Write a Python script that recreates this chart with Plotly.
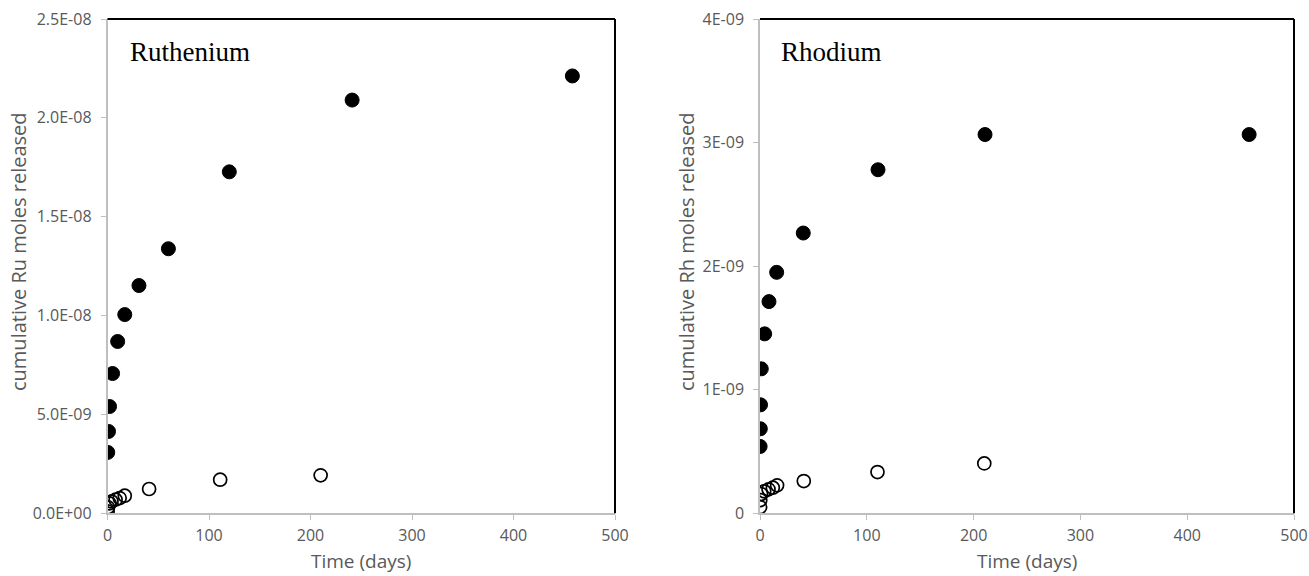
import plotly.graph_objects as go

# ---- data ----
ru_days_filled = [0.25, 1, 2, 5, 10, 17, 31, 60, 120, 241, 458]
ru_moles_filled = [3.08e-9, 4.14e-9, 5.40e-9, 7.07e-9, 8.69e-9, 1.005e-8, 1.152e-8, 1.338e-8, 1.727e-8, 2.09e-8, 2.212e-8]
ru_days_open = [0.1, 0.5, 2, 4, 8, 12, 17, 41, 111, 210]
ru_moles_open = [0.1e-9, 0.3e-9, 0.5e-9, 0.6e-9, 0.69e-9, 0.77e-9, 0.89e-9, 1.23e-9, 1.70e-9, 1.92e-9]

rh_days_filled = [0.1, 0.3, 0.5, 1.2, 4.4, 8.4, 15.6, 40.5, 110.5, 210.7, 458]
rh_moles_filled = [0.541e-9, 0.684e-9, 0.878e-9, 1.169e-9, 1.452e-9, 1.713e-9, 1.95e-9, 2.268e-9, 2.78e-9, 3.065e-9, 3.065e-9]
rh_days_open = [0.1, 0.3, 1, 4, 8, 12, 16, 41, 110, 210]
rh_moles_open = [0.05e-9, 0.107e-9, 0.156e-9, 0.178e-9, 0.194e-9, 0.207e-9, 0.226e-9, 0.261e-9, 0.334e-9, 0.404e-9]

x_ticks = [0, 100, 200, 300, 400, 500]
ru_yticks = [0, 5e-9, 1e-8, 1.5e-8, 2e-8, 2.5e-8]
ru_ytick_labels = ["0.0E+00", "5.0E-09", "1.0E-08", "1.5E-08", "2.0E-08", "2.5E-08"]
rh_yticks = [0, 1e-9, 2e-9, 3e-9, 4e-9]
rh_ytick_labels = ["0", "1E-09", "2E-09", "3E-09", "4E-09"]

W, H = 1309, 576
GRAY = "#BFBFBF"
TXT = "#595959"
FONT = "Open Sans"

fig = go.Figure()

filled = dict(size=14, color="black", line=dict(color="black", width=1))
hollow = dict(size=13, color="black", symbol="circle-open", line=dict(width=1.7))

fig.add_trace(go.Scatter(x=ru_days_filled, y=ru_moles_filled, mode="markers", marker=filled,
                         xaxis="x", yaxis="y", showlegend=False))
fig.add_trace(go.Scatter(x=ru_days_open, y=ru_moles_open, mode="markers", marker=hollow,
                         xaxis="x", yaxis="y", showlegend=False))
fig.add_trace(go.Scatter(x=rh_days_filled, y=rh_moles_filled, mode="markers", marker=filled,
                         xaxis="x2", yaxis="y2", showlegend=False))
fig.add_trace(go.Scatter(x=rh_days_open, y=rh_moles_open, mode="markers", marker=hollow,
                         xaxis="x2", yaxis="y2", showlegend=False))

# pixel geometry of the plot areas
L1, R1 = 107.5, 615
L2, R2 = 760, 1294
TOP, BOT = 19, 513.3
ydom = [1 - BOT / H, 1 - TOP / H]

common_x = dict(range=[0, 500], tickvals=x_ticks, showgrid=False, zeroline=False,
                showline=True, linecolor=GRAY, linewidth=1.5, ticks="outside",
                tickcolor=GRAY, ticklen=5, ticklabelstandoff=2, automargin=False,
                tickfont=dict(family=FONT, size=16, color=TXT))
common_y = dict(showgrid=False, zeroline=False, showline=True, linecolor=GRAY, linewidth=1.5,
                ticks="outside", tickcolor=GRAY, ticklen=5, ticklabelstandoff=6, automargin=False,
                tickfont=dict(family=FONT, size=16, color=TXT))

fig.update_layout(
    width=W, height=H,
    margin=dict(l=0, r=0, t=0, b=0, autoexpand=False),
    paper_bgcolor="white", plot_bgcolor="white",
    xaxis=dict(domain=[L1 / W, R1 / W], anchor="y", **common_x),
    yaxis=dict(domain=ydom, anchor="x", range=[0, 2.5e-8], tickvals=ru_yticks,
               ticktext=ru_ytick_labels, **common_y),
    xaxis2=dict(domain=[L2 / W, R2 / W], anchor="y2", **common_x),
    yaxis2=dict(domain=ydom, anchor="x2", range=[0, 4e-9], tickvals=rh_yticks,
                ticktext=rh_ytick_labels, **common_y),
)

# black top/right border lines
for xa, ya in (("x", "y"), ("x2", "y2")):
    fig.add_shape(type="line", xref=f"{xa} domain", yref=f"{ya} domain", x0=0, x1=1, y0=1, y1=1,
                  line=dict(color="black", width=2))
    fig.add_shape(type="line", xref=f"{xa} domain", yref=f"{ya} domain", x0=1, x1=1, y0=0, y1=1,
                  line=dict(color="black", width=2))

# chart texts
fig.add_annotation(text="Ruthenium", xref="paper", yref="paper", x=128 / W, y=1 - 52 / H,
                   xanchor="left", yanchor="middle", showarrow=False,
                   font=dict(family="Liberation Serif", size=27, color="black"))
fig.add_annotation(text="Rhodium", xref="paper", yref="paper", x=779 / W, y=1 - 52 / H,
                   xanchor="left", yanchor="middle", showarrow=False,
                   font=dict(family="Liberation Serif", size=27, color="black"))

for cx in ((L1 + R1) / 2, (L2 + R2) / 2):
    fig.add_annotation(text="Time (days)", xref="paper", yref="paper", x=cx / W, y=1 - 561 / H,
                       xanchor="center", yanchor="middle", showarrow=False,
                       font=dict(family=FONT, size=19, color=TXT))

fig.add_annotation(text="cumulative Ru moles released", xref="paper", yref="paper",
                   x=18 / W, y=1 - 252 / H, textangle=-90, xanchor="center", yanchor="middle",
                   showarrow=False, font=dict(family=FONT, size=20, color=TXT))
fig.add_annotation(text="cumulative Rh moles released", xref="paper", yref="paper",
                   x=686 / W, y=1 - 252 / H, textangle=-90, xanchor="center", yanchor="middle",
                   showarrow=False, font=dict(family=FONT, size=20, color=TXT))

fig.write_html("out.html")
